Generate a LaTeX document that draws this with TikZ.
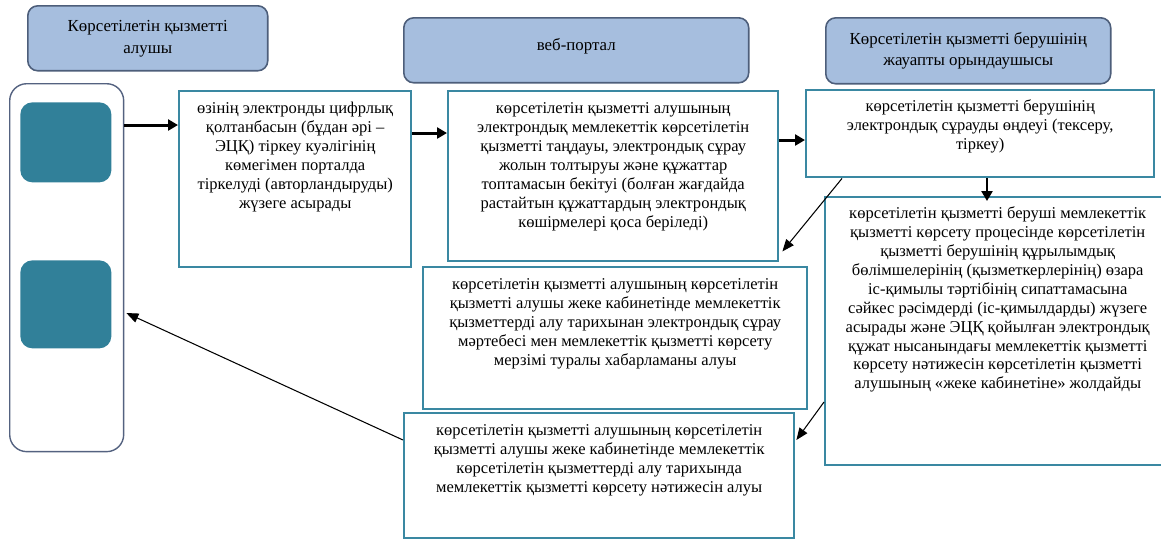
\documentclass[tikz,border=0pt]{standalone}
\usepackage{fontspec}
\setmainfont{Liberation Serif}
\usepackage{xcolor}
\usetikzlibrary{calc, arrows.meta, positioning}

\definecolor{headfill}{RGB}{166,190,222}
\definecolor{headline}{RGB}{77,94,122}
\definecolor{boxline}{RGB}{58,136,162}
\definecolor{tealfill}{RGB}{49,128,153}
\definecolor{slate}{RGB}{84,98,128}

\begin{document}
\begin{tikzpicture}[x=0.02cm, y=-0.02cm,
    head/.style={draw=headline, line width=0.9pt, fill=headfill, rounded corners=0.2cm,
        anchor=north west, align=center, inner sep=0pt,
        font=\fontsize{9.6}{12.5}\selectfont},
    stepbox/.style={draw=boxline, line width=1.4pt, fill=white, anchor=north west, inner sep=0pt},
    txt/.style={anchor=north, align=center, inner sep=0pt, font=\fontsize{9.4}{10.8}\selectfont},
    tealbox/.style={fill=tealfill, rounded corners=0.24cm, anchor=north west, inner sep=0pt,
        minimum width=1.82cm},
    flow/.style={-{Triangle[length=2mm,width=2.2mm]}, line width=1.7pt},
    back/.style={-{Triangle[length=2.4mm,width=1.9mm]}, line width=0.6pt}]

    \useasboundingbox (0,0) rectangle (1161,539);

    % =================================================================
    % 1. TAQYRYPTAR (header boxes)
    % =================================================================
    \node[head, minimum width=4.8cm, minimum height=1.3cm] (hdA) at (27,5)
        {Көрсетілетін қызметті\\алушы};
    \node[head, minimum width=6.9cm, minimum height=1.3cm] (hdB) at (403,17)
        {\raisebox{0.24cm}{веб-портал}};
    \node[head, minimum width=5.7cm, minimum height=1.32cm] (hdC) at (825,17)
        {Көрсетілетін қызметті берушінің\\жауапты орындаушысы};

    % =================================================================
    % 2. SOL JAQTAĞY BAĞAN (client column)
    % =================================================================
    \node[draw=slate, line width=0.8pt, rounded corners=0.34cm, anchor=north west,
        inner sep=0pt, minimum width=2.28cm, minimum height=7.36cm] (client) at (9,83) {};
    \node[tealbox, minimum height=1.6cm] (sqA) at (20,102) {};
    \node[tealbox, minimum height=1.76cm] (sqB) at (20,260) {};

    % =================================================================
    % 3. QADAMDAR (step boxes)
    % =================================================================
    \node[stepbox, minimum width=4.64cm, minimum height=3.52cm] (reg) at (178,90) {};
    \node[txt] (regT) at ($(reg.north)+(0,12)$)
        {өзінің электронды цифрлық\\қолтанбасын (бұдан әрі –\\ЭЦҚ) тіркеу куәлігінің\\көмегімен порталда\\тіркелуді (авторландыруды)\\жүзеге асырады};

    \node[stepbox, minimum width=6.6cm, minimum height=3.4cm] (choose) at (447,90) {};
    \node[txt] (chooseT) at ($(choose.north)+(0,12)$)
        {көрсетілетін қызметті алушының\\электрондық мемлекеттік көрсетілетін\\қызметті таңдауы, электрондық сұрау\\жолын толтыруы және құжаттар\\топтамасын бекітуі (болған жағдайда\\растайтын құжаттардың электрондық\\көшірмелері қоса беріледі)};

    \node[stepbox, minimum width=6.96cm, minimum height=1.74cm] (check) at (805,89) {};
    \node[txt] (checkT) at ($(check.north)+(0,10)$)
        {көрсетілетін қызметті берушінің\\электрондық сұрауды өңдеуі (тексеру,\\тіркеу)};

    \node[stepbox, minimum width=6.9cm, minimum height=5.36cm] (proc) at (824,196) {};
    \node[txt] (procT) at ($(proc.north)+(0,10)$)
        {көрсетілетін қызметті беруші мемлекеттік\\қызметті көрсету процесінде көрсетілетін\\қызметті берушінің құрылымдық\\бөлімшелерінің (қызметкерлерінің) өзара\\іс-қимылы тәртібінің сипаттамасына\\сәйкес рәсімдерді (іс-қимылдарды) жүзеге\\асырады және ЭЦҚ қойылған электрондық\\құжат нысанындағы мемлекеттік қызметті\\көрсету нәтижесін көрсетілетін қызметті\\алушының «жеке кабинетіне» жолдайды};

    \node[stepbox, minimum width=7.68cm, minimum height=2.84cm] (status) at (422,266) {};
    \node[txt] (statusT) at ($(status.north)+(0,12)$)
        {көрсетілетін қызметті алушының көрсетілетін\\қызметті алушы жеке кабинетінде мемлекеттік\\қызметтерді алу тарихынан электрондық сұрау\\мәртебесі мен мемлекеттік қызметті көрсету\\мерзімі туралы хабарламаны алуы};

    \node[stepbox, minimum width=7.8cm, minimum height=2.5cm] (result) at (403,412) {};
    \node[txt] (resultT) at ($(result.north)+(0,12)$)
        {көрсетілетін қызметті алушының көрсетілетін\\қызметті алушы жеке кабинетінде мемлекеттік\\көрсетілетін қызметтерді алу тарихында\\мемлекеттік қызметті көрсету нәтижесін алуы};

    % =================================================================
    % 4. BAĞYTTAUŞYLAR (arrows)
    % =================================================================
    \coordinate (a1) at ($(client.north east)+(0,42)$);
    \coordinate (a2) at ($(reg.north east)+(0,43)$);
    \coordinate (a3) at ($(choose.north east)+(0,50)$);
    \coordinate (a4) at ($(check.south west)+(182,0)$);

    \draw[flow] (a1) -- (a1 -| reg.west);
    \draw[flow] (a2) -- (a2 -| choose.west);
    \draw[flow] (a3) -- (a3 -| check.west);
    \draw[flow] (a4) -- ($(a4 |- proc.north)+(0,5)$);

    % jinishke bağyttauşylar
    \draw[back] ($(check.south west)+(37,0)$) -- ($(choose.south east)+(3,-11)$);
    \draw[back] ($(proc.north west)+(0,206)$) -- ($(result.north east)+(1,28)$);
    \draw[back] ($(result.north west)+(0,28)$) -- ($(client.north east)+(2,230)$);

\end{tikzpicture}
\end{document}
